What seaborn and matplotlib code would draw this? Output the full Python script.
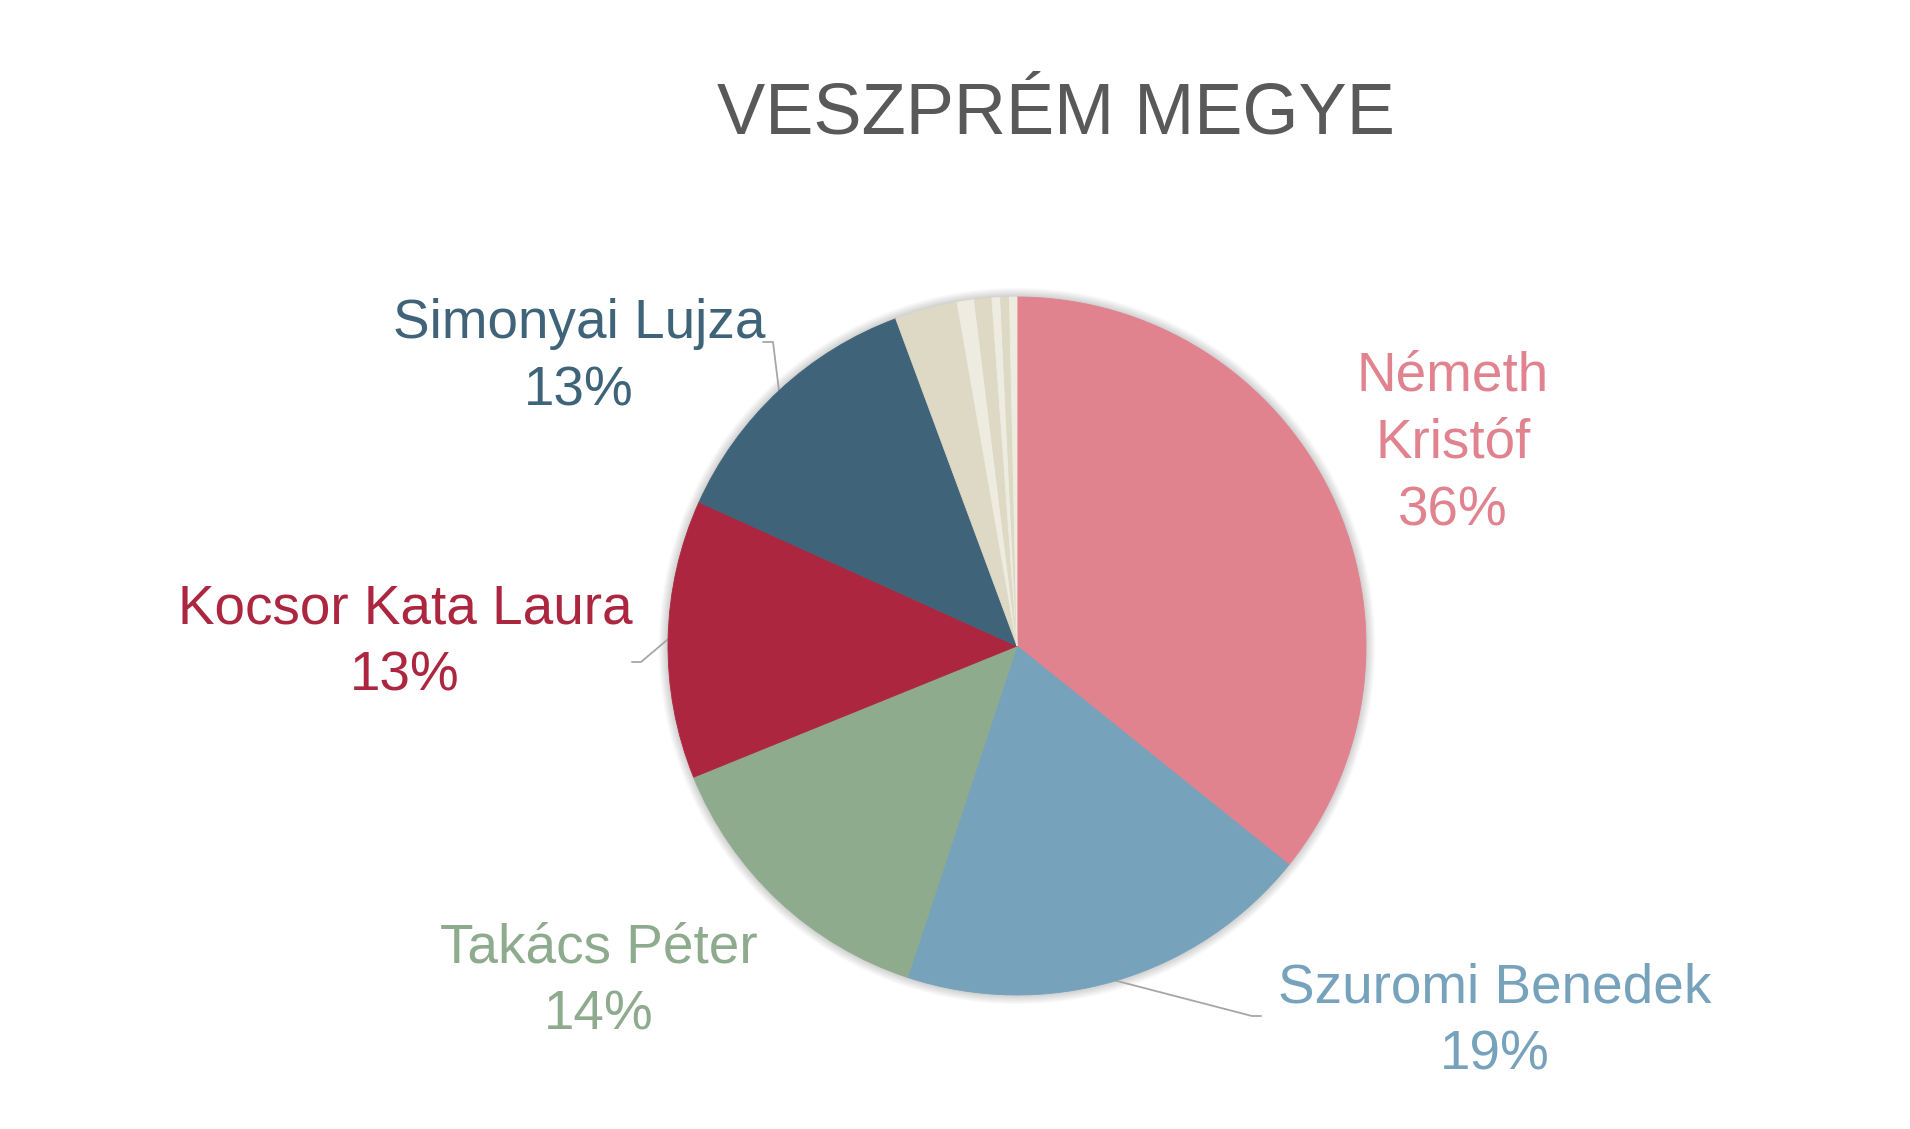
import matplotlib
matplotlib.use("Agg")
import matplotlib.pyplot as plt
import seaborn as sns
import numpy as np
from matplotlib.patches import Circle

# ---- data ----
names = ["Németh Kristóf", "Szuromi Benedek", "Takács Péter", "Kocsor Kata Laura",
         "Simonyai Lujza", "Egyéb 1", "Egyéb 2", "Egyéb 3", "Egyéb 4", "Egyéb 5", "Egyéb 6"]
shares = [35.8, 19.3, 13.8, 12.9, 12.6, 2.9, 0.8, 0.8, 0.4, 0.4, 0.35]
label_text = ["Németh\nKristóf\n36%", "Szuromi Benedek\n19%", "Takács Péter\n14%",
              "Kocsor Kata Laura\n13%", "Simonyai Lujza\n13%"]
colors = ["#E0838F", "#76A2BC", "#8EAB8D", "#AD263F", "#3F6479",
          "#DDD9C4", "#EEECE1", "#DDD9C4", "#EEECE1", "#DDD9C4", "#EEECE1"]

sns.set_theme(style="white")
plt.rcParams["font.family"] = ["Liberation Sans", "DejaVu Sans"]

W, H = 1910, 1129
fig = plt.figure(figsize=(W / 100, H / 100), dpi=100)
ax = fig.add_axes([0, 0, 1, 1])

cx, cy, R = 1017, H - 646, 349

# soft shadow / glow
for i in range(16):
    ax.add_patch(Circle((cx, cy), R + 0.5 + i * 0.6, facecolor="#000000",
                        alpha=0.013, edgecolor="none", zorder=0))

wedges, _ = ax.pie(shares, colors=colors, startangle=90, counterclock=False,
                   radius=R, center=(cx, cy),
                   wedgeprops=dict(linewidth=0.6))
for w in wedges:
    w.set_zorder(2)
    w.set_edgecolor(w.get_facecolor())

ax.set_xlim(0, W)
ax.set_ylim(0, H)
ax.set_aspect("equal")
ax.axis("off")

# labels (x, y in pixel coords from top)
lab_pos = [(1453, 444), (1495, 1022), (599, 982), (405, 643), (579, 358)]
for i, (t, (lx, ly)) in enumerate(zip(label_text, lab_pos)):
    ax.text(lx, H - ly, t, ha="center", va="center", fontsize=39.5, color=colors[i],
            linespacing=1.38, zorder=3)

# leader lines: from wedge mid-angle on the edge to elbow
elbows = {1: ((1252, 1016), (1261, 1016)),
          3: ((641, 662), (632, 662)),
          4: ((773, 342), (763, 342))}
for idx, (e1, e2) in elbows.items():
    w = wedges[idx]
    mid = np.deg2rad((w.theta1 + w.theta2) / 2)
    px, py = cx + R * np.cos(mid), cy + R * np.sin(mid)
    ax.plot([px, e1[0], e2[0]], [py, H - e1[1], H - e2[1]], color="#A6A6A6",
            lw=1.3, zorder=1)

ax.text(1056, H - 115, "VESZPRÉM MEGYE", ha="center", va="center", fontsize=52,
        color="#595959")

fig.savefig("out.png", dpi=100, facecolor="white")
